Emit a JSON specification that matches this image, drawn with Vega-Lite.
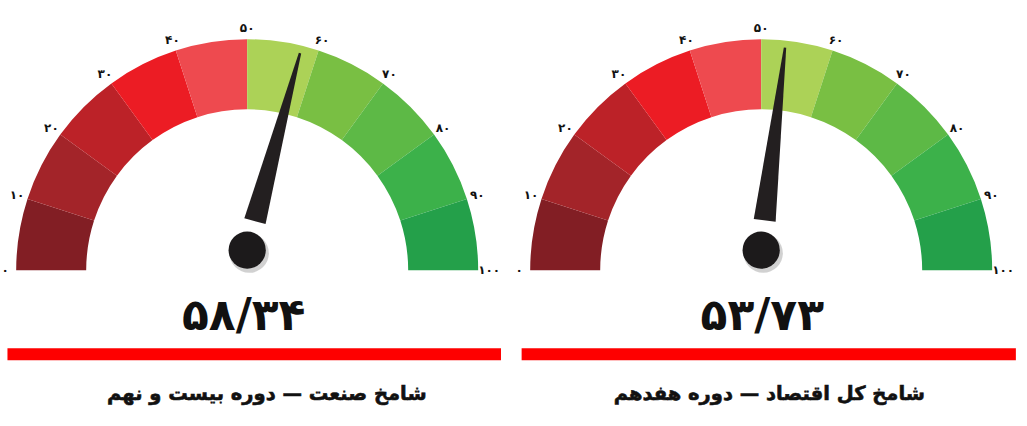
{
  "$schema": "https://vega.github.io/schema/vega-lite/v6.json",
  "background": "white",
  "padding": 0,
  "spacing": 0,
  "bounds": "flush",
  "config": {"view": {"stroke": null}, "font": "DejaVu Sans"},
  "datasets": {
    "segments": [
      {"band": "0-10", "start": 0, "end": 10},
      {"band": "10-20", "start": 10, "end": 20},
      {"band": "20-30", "start": 20, "end": 30},
      {"band": "30-40", "start": 30, "end": 40},
      {"band": "40-50", "start": 40, "end": 50},
      {"band": "50-60", "start": 50, "end": 60},
      {"band": "60-70", "start": 60, "end": 70},
      {"band": "70-80", "start": 70, "end": 80},
      {"band": "80-90", "start": 80, "end": 90},
      {"band": "90-100", "start": 90, "end": 100}
    ],
    "ticks": [
      {"value": 0, "label": "۰"},
      {"value": 10, "label": "۱۰"},
      {"value": 20, "label": "۲۰"},
      {"value": 30, "label": "۳۰"},
      {"value": 40, "label": "۴۰"},
      {"value": 50, "label": "۵۰"},
      {"value": 60, "label": "۶۰"},
      {"value": 70, "label": "۷۰"},
      {"value": 80, "label": "۸۰"},
      {"value": 90, "label": "۹۰"},
      {"value": 100, "label": "۱۰۰"}
    ],
    "left": [{"value": 58.34, "label": "۵۸/۳۴", "title": "شامخ صنعت — دوره بیست و نهم"}],
    "right": [{"value": 53.73, "label": "۵۳/۷۳", "title": "شامخ کل اقتصاد — دوره هفدهم"}]
  },
  "hconcat": [
    {
      "width": 514, "height": 426,
      "data": {"name": "left"},
      "layer": [
        {"data": {"name": "segments"}, "mark": {"type": "arc"},
         "encoding": {
           "x": {"datum": 0, "type": "quantitative", "scale": {"domain": [-1.07, 1.155], "nice": false, "zero": false}, "axis": null},
           "y": {"datum": 0, "type": "quantitative", "scale": {"domain": [-0.6742, 1.17], "nice": false, "zero": false}, "axis": null},
           "theta": {"field": "start", "type": "quantitative", "stack": null, "scale": {"domain": [0, 100], "range": [-1.5708, 1.5708]}},
           "theta2": {"field": "end"},
           "radius": {"value": 231}, "radius2": {"value": 161},
           "color": {"field": "band", "type": "nominal", "legend": null, "scale": {"domain": ["0-10","10-20","20-30","30-40","40-50","50-60","60-70","70-80","80-90","90-100"], "range": ["#821e24","#a32429","#bc2228","#ec1c24","#ee4a4f","#acd257","#79bf43","#5db946","#3cb14a","#24a04a"]}}
         }},
        {"data": {"name": "ticks"}, "mark": {"type": "text", "fontSize": 12, "fontWeight": "bold", "align": "center", "baseline": "middle", "color": "#111111"},
         "encoding": {
           "x": {"datum": 0, "type": "quantitative", "scale": {"domain": [-1.07, 1.155], "nice": false, "zero": false}, "axis": null},
           "y": {"datum": 0, "type": "quantitative", "scale": {"domain": [-0.6742, 1.17], "nice": false, "zero": false}, "axis": null},
           "theta": {"field": "value", "type": "quantitative", "scale": {"domain": [0, 100], "range": [-1.5708, 1.5708]}},
           "radius": {"value": 242},
           "text": {"field": "label"}
         }},
        {"mark": {"type": "point", "shape": "circle", "filled": true, "opacity": 0.45, "color": "#9a9a9a", "size": 1550, "xOffset": 2, "yOffset": 3, "strokeWidth": 0},
         "encoding": {
           "x": {"datum": 0, "type": "quantitative", "scale": {"domain": [-1.07, 1.155], "nice": false, "zero": false}, "axis": null},
           "y": {"datum": 0.087, "type": "quantitative", "scale": {"domain": [-0.6742, 1.17], "nice": false, "zero": false}, "axis": null}
         }},
        {"mark": {"type": "point", "shape": "M -0.11 -0.3 L 0.11 -0.3 L 0.012 -2.04 L -0.012 -2.04 Z", "filled": true, "opacity": 1, "color": "#231f20", "size": 40000, "strokeWidth": 0},
         "encoding": {
           "x": {"datum": 0, "type": "quantitative", "scale": {"domain": [-1.07, 1.155], "nice": false, "zero": false}, "axis": null},
           "y": {"datum": 0.087, "type": "quantitative", "scale": {"domain": [-0.6742, 1.17], "nice": false, "zero": false}, "axis": null},
           "angle": {"field": "value", "type": "quantitative", "scale": {"domain": [0, 100], "range": [-90, 90]}}
         }},
        {"mark": {"type": "point", "shape": "circle", "filled": true, "opacity": 1, "color": "#1c1a1b", "size": 1385, "strokeWidth": 0},
         "encoding": {
           "x": {"datum": 0, "type": "quantitative", "scale": {"domain": [-1.07, 1.155], "nice": false, "zero": false}, "axis": null},
           "y": {"datum": 0.087, "type": "quantitative", "scale": {"domain": [-0.6742, 1.17], "nice": false, "zero": false}, "axis": null}
         }},
        {"mark": {"type": "text", "fontSize": 44, "fontWeight": "bold", "align": "center", "baseline": "alphabetic", "color": "#111111"},
         "encoding": {
           "x": {"datum": -0.015, "type": "quantitative", "scale": {"domain": [-1.07, 1.155], "nice": false, "zero": false}, "axis": null},
           "y": {"datum": -0.26, "type": "quantitative", "scale": {"domain": [-0.6742, 1.17], "nice": false, "zero": false}, "axis": null},
           "text": {"field": "label"}
         }},
        {"mark": {"type": "rect", "color": "#fe0000"},
         "encoding": {
           "x": {"datum": -1.0377, "type": "quantitative", "scale": {"domain": [-1.07, 1.155], "nice": false, "zero": false}, "axis": null},
           "x2": {"datum": 1.0987},
           "y": {"datum": -0.3377, "type": "quantitative", "scale": {"domain": [-0.6742, 1.17], "nice": false, "zero": false}, "axis": null},
           "y2": {"datum": -0.3896}
         }},
        {"mark": {"type": "text", "fontSize": 19.5, "fontWeight": "bold", "align": "center", "baseline": "alphabetic", "color": "#111111", "stroke": "#111111", "strokeWidth": 0.6},
         "encoding": {
           "x": {"datum": 0.085, "type": "quantitative", "scale": {"domain": [-1.07, 1.155], "nice": false, "zero": false}, "axis": null},
           "y": {"datum": -0.56, "type": "quantitative", "scale": {"domain": [-0.6742, 1.17], "nice": false, "zero": false}, "axis": null},
           "text": {"field": "title"}
         }}
      ]
    },
    {
      "width": 514, "height": 426,
      "data": {"name": "right"},
      "layer": [
        {"data": {"name": "segments"}, "mark": {"type": "arc"},
         "encoding": {
           "x": {"datum": 0, "type": "quantitative", "scale": {"domain": [-1.07, 1.155], "nice": false, "zero": false}, "axis": null},
           "y": {"datum": 0, "type": "quantitative", "scale": {"domain": [-0.6742, 1.17], "nice": false, "zero": false}, "axis": null},
           "theta": {"field": "start", "type": "quantitative", "stack": null, "scale": {"domain": [0, 100], "range": [-1.5708, 1.5708]}},
           "theta2": {"field": "end"},
           "radius": {"value": 231}, "radius2": {"value": 161},
           "color": {"field": "band", "type": "nominal", "legend": null, "scale": {"domain": ["0-10","10-20","20-30","30-40","40-50","50-60","60-70","70-80","80-90","90-100"], "range": ["#821e24","#a32429","#bc2228","#ec1c24","#ee4a4f","#acd257","#79bf43","#5db946","#3cb14a","#24a04a"]}}
         }},
        {"data": {"name": "ticks"}, "mark": {"type": "text", "fontSize": 12, "fontWeight": "bold", "align": "center", "baseline": "middle", "color": "#111111"},
         "encoding": {
           "x": {"datum": 0, "type": "quantitative", "scale": {"domain": [-1.07, 1.155], "nice": false, "zero": false}, "axis": null},
           "y": {"datum": 0, "type": "quantitative", "scale": {"domain": [-0.6742, 1.17], "nice": false, "zero": false}, "axis": null},
           "theta": {"field": "value", "type": "quantitative", "scale": {"domain": [0, 100], "range": [-1.5708, 1.5708]}},
           "radius": {"value": 242},
           "text": {"field": "label"}
         }},
        {"mark": {"type": "point", "shape": "circle", "filled": true, "opacity": 0.45, "color": "#9a9a9a", "size": 1550, "xOffset": 2, "yOffset": 3, "strokeWidth": 0},
         "encoding": {
           "x": {"datum": 0, "type": "quantitative", "scale": {"domain": [-1.07, 1.155], "nice": false, "zero": false}, "axis": null},
           "y": {"datum": 0.087, "type": "quantitative", "scale": {"domain": [-0.6742, 1.17], "nice": false, "zero": false}, "axis": null}
         }},
        {"mark": {"type": "point", "shape": "M -0.11 -0.3 L 0.11 -0.3 L 0.012 -2.04 L -0.012 -2.04 Z", "filled": true, "opacity": 1, "color": "#231f20", "size": 40000, "strokeWidth": 0},
         "encoding": {
           "x": {"datum": 0, "type": "quantitative", "scale": {"domain": [-1.07, 1.155], "nice": false, "zero": false}, "axis": null},
           "y": {"datum": 0.087, "type": "quantitative", "scale": {"domain": [-0.6742, 1.17], "nice": false, "zero": false}, "axis": null},
           "angle": {"field": "value", "type": "quantitative", "scale": {"domain": [0, 100], "range": [-90, 90]}}
         }},
        {"mark": {"type": "point", "shape": "circle", "filled": true, "opacity": 1, "color": "#1c1a1b", "size": 1385, "strokeWidth": 0},
         "encoding": {
           "x": {"datum": 0, "type": "quantitative", "scale": {"domain": [-1.07, 1.155], "nice": false, "zero": false}, "axis": null},
           "y": {"datum": 0.087, "type": "quantitative", "scale": {"domain": [-0.6742, 1.17], "nice": false, "zero": false}, "axis": null}
         }},
        {"mark": {"type": "text", "fontSize": 44, "fontWeight": "bold", "align": "center", "baseline": "alphabetic", "color": "#111111"},
         "encoding": {
           "x": {"datum": 0.005, "type": "quantitative", "scale": {"domain": [-1.07, 1.155], "nice": false, "zero": false}, "axis": null},
           "y": {"datum": -0.26, "type": "quantitative", "scale": {"domain": [-0.6742, 1.17], "nice": false, "zero": false}, "axis": null},
           "text": {"field": "label"}
         }},
        {"mark": {"type": "rect", "color": "#fe0000"},
         "encoding": {
           "x": {"datum": -1.037, "type": "quantitative", "scale": {"domain": [-1.07, 1.155], "nice": false, "zero": false}, "axis": null},
           "x2": {"datum": 1.1025},
           "y": {"datum": -0.3377, "type": "quantitative", "scale": {"domain": [-0.6742, 1.17], "nice": false, "zero": false}, "axis": null},
           "y2": {"datum": -0.3896}
         }},
        {"mark": {"type": "text", "fontSize": 19.5, "fontWeight": "bold", "align": "center", "baseline": "alphabetic", "color": "#111111", "stroke": "#111111", "strokeWidth": 0.6},
         "encoding": {
           "x": {"datum": 0.035, "type": "quantitative", "scale": {"domain": [-1.07, 1.155], "nice": false, "zero": false}, "axis": null},
           "y": {"datum": -0.56, "type": "quantitative", "scale": {"domain": [-0.6742, 1.17], "nice": false, "zero": false}, "axis": null},
           "text": {"field": "title"}
         }}
      ]
    }
  ]
}
